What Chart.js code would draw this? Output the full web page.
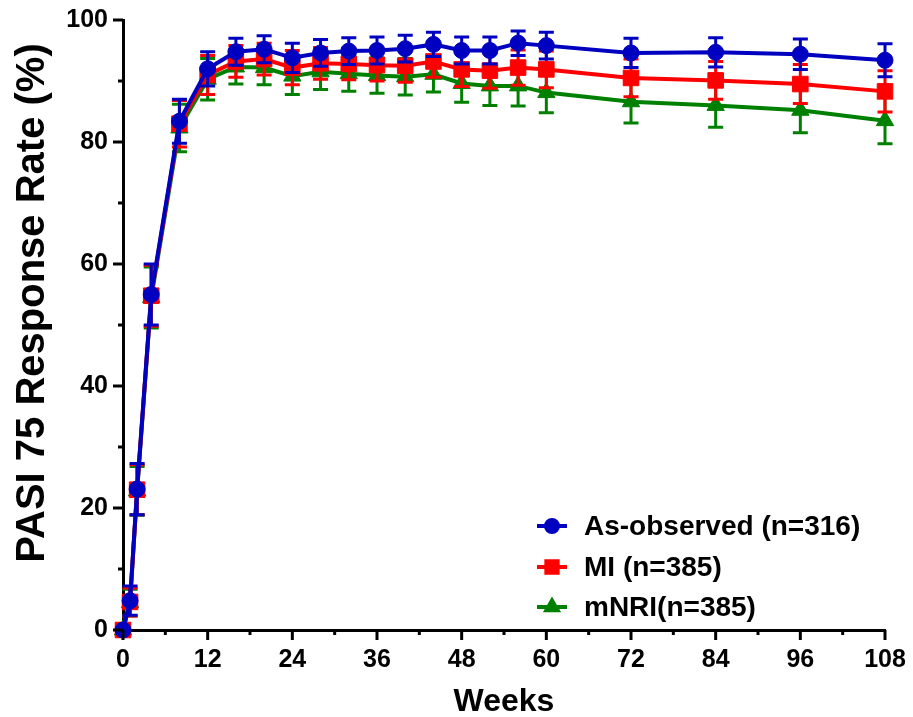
<!DOCTYPE html>
<html>
<head>
<meta charset="utf-8">
<script src="https://cdn.jsdelivr.net/npm/chart.js@4.4.1/dist/chart.umd.min.js"></script>
<style>
  html, body { margin: 0; padding: 0; background: #fff; }
  #wrap { width: 913px; height: 717px; }
</style>
</head>
<body>
<div id="wrap"><canvas id="chart"></canvas></div>
<script>
const weeks = [0, 1, 2, 4, 8, 12, 16, 20, 24, 28, 32, 36, 40, 44, 48, 52, 56, 60, 72, 84, 96, 108];

const observed = [0, 4.8, 23.1, 55.0, 83.4, 92.0, 94.8, 95.2, 93.8, 94.6, 94.9, 95.0, 95.3, 96.0, 95.0, 95.0, 96.2, 95.8, 94.6, 94.7, 94.4, 93.4];
const observedErr = [0, 2.4, 4.2, 5.0, 3.6, 2.8, 2.2, 2.2, 2.4, 2.2, 2.2, 2.2, 2.2, 2.0, 2.2, 2.2, 2.0, 2.2, 2.4, 2.4, 2.5, 2.7];

const mi = [0, 4.6, 23.0, 54.8, 83.0, 91.0, 93.2, 93.6, 92.2, 92.9, 92.8, 92.6, 92.5, 93.2, 91.9, 91.7, 92.2, 91.9, 90.5, 90.1, 89.5, 88.3];
const miErr = [0, 2.3, 4.1, 5.0, 3.8, 3.2, 2.6, 2.6, 2.8, 2.6, 2.6, 2.6, 2.7, 2.6, 2.8, 2.9, 2.9, 3.0, 3.1, 3.1, 3.2, 3.4];

const mnri = [0, 4.5, 22.8, 54.5, 82.3, 90.3, 92.3, 92.2, 90.8, 91.5, 91.2, 90.9, 90.7, 91.1, 89.6, 89.2, 89.2, 88.1, 86.6, 86.0, 85.2, 83.5];
const mnriErr = [0, 2.2, 4.0, 5.0, 3.9, 3.4, 2.8, 2.8, 3.0, 2.9, 2.9, 2.9, 3.0, 2.9, 3.1, 3.2, 3.3, 3.3, 3.5, 3.6, 3.7, 3.8];

const seriesLabels = ["As-observed (n=316)", "MI (n=385)", "mNRI(n=385)"];
const xTitle = "Weeks";
const yTitle = "PASI 75 Response Rate (%)";

const FONT = "'Liberation Sans', Arial, Helvetica, sans-serif";
const BLUE = "#0000c0";
const RED = "#ff0000";
const GREEN = "#008000";

function toPoints(vals) {
  return weeks.map((w, i) => ({ x: w, y: vals[i] }));
}

// let layout.padding alone decide the plot edges
function noOverflow(scale) {
  scale.paddingTop = 0;
  scale.paddingBottom = 0;
  scale.paddingLeft = 0;
  scale.paddingRight = 0;
}

// error bars, drawn just under each dataset's own line/markers
const errorBars = {
  id: "errorBars",
  beforeDatasetDraw(chart, args) {
    const ds = chart.data.datasets[args.index];
    if (!ds.errors) return;
    const xs = chart.scales.x, ys = chart.scales.y;
    const ctx = chart.ctx;
    ctx.save();
    ctx.strokeStyle = ds.borderColor;
    ctx.lineWidth = 3;
    ds.data.forEach((p, i) => {
      const e = ds.errors[i];
      if (!e) return;
      const px = xs.getPixelForValue(p.x);
      const top = ys.getPixelForValue(p.y + e);
      const bot = ys.getPixelForValue(p.y - e);
      ctx.beginPath();
      ctx.moveTo(px, top); ctx.lineTo(px, bot);
      ctx.moveTo(px - 7.5, top); ctx.lineTo(px + 7.5, top);
      ctx.moveTo(px - 7.5, bot); ctx.lineTo(px + 7.5, bot);
      ctx.stroke();
    });
    ctx.restore();
  }
};

// major / minor tick marks outside the axes, plus the y title
const axisDecor = {
  id: "axisDecor",
  afterDraw(chart) {
    const ctx = chart.ctx;
    const xs = chart.scales.x, ys = chart.scales.y;
    const area = chart.chartArea;
    ctx.save();
    ctx.strokeStyle = "#000";
    ctx.lineWidth = 3;
    ys.ticks.forEach(t => {
      const py = ys.getPixelForValue(t.value);
      const len = t.value % 20 === 0 ? 10 : 5;
      ctx.beginPath();
      ctx.moveTo(area.left, py); ctx.lineTo(area.left - len, py);
      ctx.stroke();
    });
    xs.ticks.forEach(t => {
      const px = xs.getPixelForValue(t.value);
      const len = t.value % 12 === 0 ? 10 : 5;
      ctx.beginPath();
      ctx.moveTo(px, area.bottom); ctx.lineTo(px, area.bottom + len);
      ctx.stroke();
    });
    // y title sits a little above the axis middle in the original
    ctx.translate(33, (area.top + area.bottom) / 2 - 22);
    ctx.rotate(-Math.PI / 2);
    ctx.font = "bold 40px " + FONT;
    ctx.fillStyle = "#000";
    ctx.textAlign = "center";
    ctx.textBaseline = "middle";
    ctx.fillText(yTitle, 0, 0);
    ctx.restore();
  }
};

// legend in the lower right of the plot
const insideLegend = {
  id: "insideLegend",
  afterDraw(chart) {
    const ctx = chart.ctx;
    const area = chart.chartArea;
    const rows = [-104, -63, -23];
    ctx.save();
    ctx.font = "bold 28px " + FONT;
    ctx.textBaseline = "middle";
    chart.data.datasets.forEach((ds, i) => {
      const y = area.bottom + rows[i];
      const x0 = area.right - 348;
      ctx.strokeStyle = ds.borderColor;
      ctx.lineWidth = 4;
      ctx.beginPath();
      ctx.moveTo(x0, y); ctx.lineTo(x0 + 30, y);
      ctx.stroke();
      ctx.fillStyle = ds.backgroundColor;
      Chart.helpers.drawPoint(ctx, {
        pointStyle: ds.pointStyle, radius: ds.legendRadius, borderWidth: 1, rotation: 0
      }, x0 + 15, y);
      ctx.fillStyle = "#000";
      ctx.fillText(ds.label, area.right - 301, y + 1);
    });
    ctx.restore();
  }
};

new Chart(document.getElementById("chart"), {
  type: "line",
  data: {
    datasets: [
      {
        label: seriesLabels[0], data: toPoints(observed), errors: observedErr,
        borderColor: BLUE, backgroundColor: BLUE, pointStyle: "circle",
        pointRadius: 8, legendRadius: 6
      },
      {
        label: seriesLabels[1], data: toPoints(mi), errors: miErr,
        borderColor: RED, backgroundColor: RED, pointStyle: "rect",
        pointRadius: 11, legendRadius: 8
      },
      {
        label: seriesLabels[2], data: toPoints(mnri), errors: mnriErr,
        borderColor: GREEN, backgroundColor: GREEN, pointStyle: "triangle",
        pointRadius: 10, legendRadius: 6.5
      }
    ]
  },
  options: {
    responsive: true,
    maintainAspectRatio: false,
    animation: false,
    layout: { padding: { top: 20, right: 28, left: 0, bottom: 0 } },
    elements: {
      line: { borderWidth: 4, tension: 0, fill: false },
      point: { borderWidth: 1, hoverRadius: 8 }
    },
    datasets: { line: { clip: false } },
    plugins: {
      legend: { display: false },
      tooltip: { enabled: false }
    },
    scales: {
      x: {
        type: "linear",
        min: 0, max: 108,
        afterFit(scale) { scale.height = 87; noOverflow(scale); },
        grid: { display: false, drawTicks: false },
        border: { display: true, color: "#000", width: 3 },
        ticks: {
          stepSize: 6, autoSkip: false, maxRotation: 0, padding: 15,
          color: "#000", font: { family: FONT, size: 25, weight: "bold" },
          callback: v => (v % 12 === 0 ? v : "")
        },
        title: {
          display: true, text: xTitle, color: "#000",
          font: { family: FONT, size: 32, weight: "bold" },
          padding: { top: 0, bottom: -4 }
        }
      },
      y: {
        min: 0, max: 100,
        afterFit(scale) { scale.width = 123; noOverflow(scale); },
        grid: { display: false, drawTicks: false },
        border: { display: true, color: "#000", width: 3 },
        ticks: {
          stepSize: 10, autoSkip: false, padding: 15,
          color: "#000", font: { family: FONT, size: 25, weight: "bold" },
          callback: v => (v % 20 === 0 ? v : "")
        }
      }
    }
  },
  plugins: [errorBars, axisDecor, insideLegend]
});
</script>
</body>
</html>
